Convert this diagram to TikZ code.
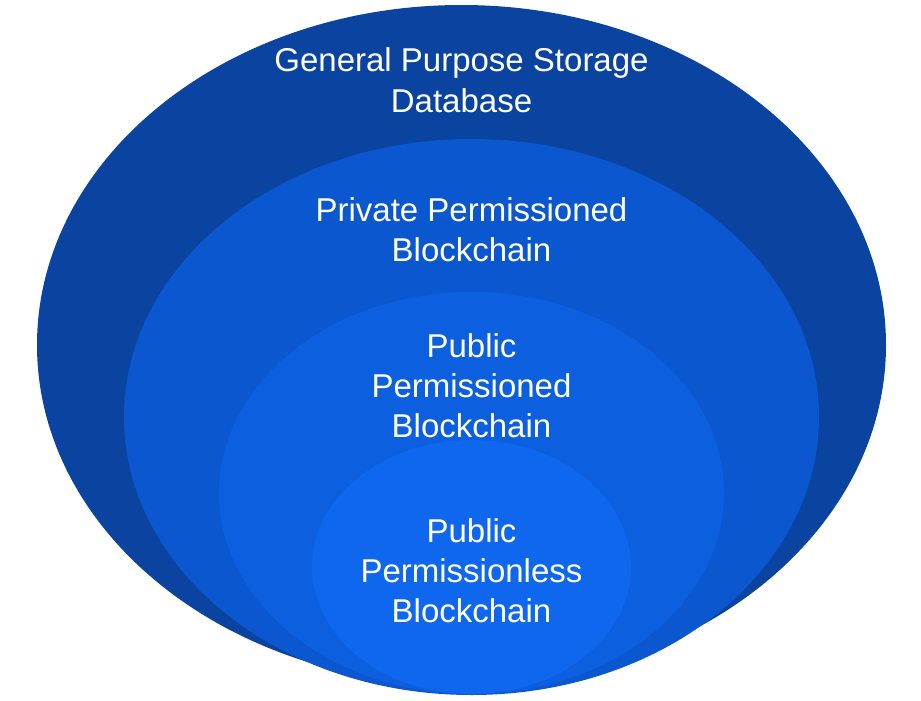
\documentclass[tikz,border=0pt]{standalone}
\usepackage{fontspec}
\setmainfont{Liberation Sans}
\usetikzlibrary{shapes.geometric}
\definecolor{cOuter}{HTML}{0A44A0}
\definecolor{cPrivate}{HTML}{0B57D0}
\definecolor{cPublic}{HTML}{0C5FDE}
\definecolor{cLess}{HTML}{0F67EE}
\tikzset{
  layer/.style={ellipse, inner sep=0pt, draw=none},
  lbl/.style={text=white, align=center, anchor=base, inner sep=0pt,
    font=\fontsize{33}{40}\selectfont}
}
\begin{document}
\begin{tikzpicture}[x=1pt,y=-1pt]
\useasboundingbox (0,0) rectangle (921,701);
\node[layer, fill=cOuter, minimum width=849pt, minimum height=680pt] (db) at (461.5,345) {};
\node[layer, fill=cPrivate, minimum width=695pt, minimum height=556pt] (priv) at (471.5,417) {};
\node[layer, fill=cPublic, minimum width=505pt, minimum height=402pt] (pub) at (471.5,493) {};
\node[layer, fill=cLess, minimum width=319pt, minimum height=254pt] (less) at (471.5,567) {};
\node[lbl] (tdb) at (461.5,112) {General Purpose Storage\\Database};
\node[lbl] (tpriv) at (471.5,261) {Private Permissioned\\Blockchain};
\node[lbl] (tpub) at (471.5,437) {Public\\Permissioned\\Blockchain};
\node[lbl] (tless) at (471.5,622) {Public\\Permissionless\\Blockchain};
\end{tikzpicture}
\end{document}
